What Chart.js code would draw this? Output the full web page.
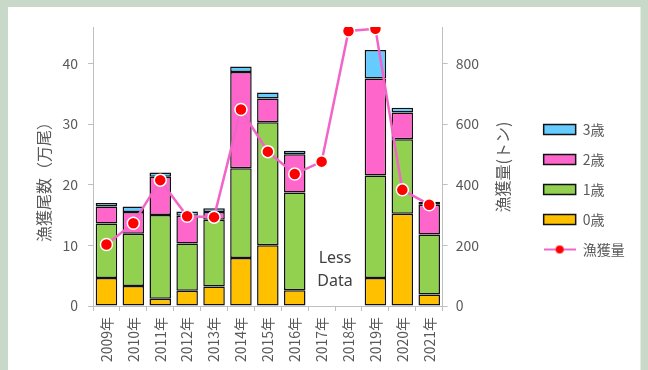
<!DOCTYPE html>
<html>
<head>
<meta charset="utf-8">
<script src="https://cdn.jsdelivr.net/npm/chart.js@4"></script>
<style>
  html, body { margin: 0; padding: 0; }
  body { width: 648px; height: 370px; background: #c8d9c9; position: relative; overflow: hidden; }
  #panel { position: absolute; left: 8px; top: 7px; width: 632px; height: 363px; background: #ffffff; border-right: 1px solid #e4ece4; }
  canvas { display: block; }
</style>
</head>
<body>
<div id="panel"><canvas id="catchChart" width="632" height="363"></canvas></div>
<script>
// categories
const years = ['2009年', '2010年', '2011年', '2012年', '2013年', '2014年', '2015年',
               '2016年', '2017年', '2018年', '2019年', '2020年', '2021年'];

// catch in number of fish (10,000 fish), by age
const age0 = [4.6, 3.3, 1.2, 2.5, 3.2, 7.9, 10.0, 2.6, null, null, 4.6, 15.2, 1.9];
const age1 = [9.0, 8.6, 13.8, 7.8, 11.0, 14.8, 20.3, 16.1, null, null, 16.9, 12.3, 9.9];
const age2 = [2.8, 3.6, 6.3, 4.6, 1.3, 15.9, 3.9, 6.3, null, null, 16.0, 4.4, 4.9];
const age3 = [0.6, 0.9, 0.7, 0.7, 0.6, 0.9, 1.0, 0.6, null, null, 4.7, 0.8, 0.5];

// catch weight (tons)
const catchTons = [203, 273, 415, 296, 293, 648, 509, 435, 476, 907, 914, 383, 334];

// axis ticks
const leftTicks = [0, 10, 20, 30, 40];
const rightTicks = [0, 200, 400, 600, 800];

// legend order: 3歳, 2歳, 1歳, 0歳, 漁獲量 (dataset indexes)
const legendOrder = [3, 2, 1, 0, 4];

const labelFont = { family: "'Noto Sans CJK JP', 'Noto Sans', sans-serif", size: 14 };
const textGray = '#595959';
const axisGray = '#bfbfbf';

// legend icon for the line series
const lineIcon = document.createElement('canvas');
lineIcon.width = 32;
lineIcon.height = 12;
(function() {
    const c = lineIcon.getContext('2d');
    c.strokeStyle = '#f264c8';
    c.lineWidth = 2;
    c.beginPath();
    c.moveTo(0, 6);
    c.lineTo(32, 6);
    c.stroke();
    c.fillStyle = '#ff0000';
    c.beginPath();
    c.arc(16, 6, 4, 0, Math.PI * 2);
    c.fill();
})();

function barSet(label, data, color) {
    return {
        type: 'bar',
        label: label,
        data: data,
        backgroundColor: color,
        borderColor: '#111111',
        borderWidth: 1.5,
        borderSkipped: false,
        yAxisID: 'y',
        stack: 'fish',
        order: 1,
        barPercentage: 0.8,
        categoryPercentage: 1.0
    };
}

// move the legend block up a little (it is centred a bit higher in the original)
const legendShift = {
    id: 'legendShift',
    afterLayout(chart) {
        if (chart.legend) {
            chart.legend.top -= 9;
            chart.legend.bottom -= 9;
        }
    }
};

// axis titles (both read bottom-to-top) and the "Less Data" note
const extraText = {
    id: 'extraText',
    afterDraw(chart) {
        const ctx = chart.ctx;
        const xs = chart.scales.x;
        const ys = chart.scales.y;
        ctx.save();
        ctx.fillStyle = textGray;
        ctx.font = "16px 'Noto Sans CJK JP', sans-serif";
        ctx.textAlign = 'center';
        ctx.textBaseline = 'middle';

        ctx.save();
        ctx.translate(36, 171);
        ctx.rotate(-Math.PI / 2);
        ctx.fillText('漁獲尾数（万尾）', 0, 0);
        ctx.restore();

        ctx.save();
        ctx.translate(495, 160);
        ctx.rotate(-Math.PI / 2);
        ctx.fillText('漁獲量(トン)', 0, 0);
        ctx.restore();

        const mid = (xs.getPixelForValue(8) + xs.getPixelForValue(9)) / 2;
        ctx.fillStyle = '#404040';
        ctx.font = "16px 'Noto Sans', sans-serif";
        ctx.fillText('Less', mid, ys.getPixelForValue(7.9));
        ctx.fillText('Data', mid, ys.getPixelForValue(4.0));
        ctx.restore();
    }
};

const ctx = document.getElementById('catchChart').getContext('2d');
new Chart(ctx, {
    data: {
        labels: years,
        datasets: [
            barSet('0歳', age0, '#ffc000'),
            barSet('1歳', age1, '#92d050'),
            barSet('2歳', age2, '#ff66cc'),
            barSet('3歳', age3, '#66ccff'),
            {
                type: 'line',
                label: '漁獲量',
                data: catchTons,
                yAxisID: 'y2',
                order: 0,
                borderColor: '#f264c8',
                borderWidth: 2.5,
                tension: 0,
                pointRadius: 6,
                pointBackgroundColor: '#ff0000',
                pointBorderColor: '#ffffff',
                pointBorderWidth: 1.5
            }
        ]
    },
    options: {
        responsive: false,
        animation: false,
        layout: { padding: { left: 23, top: 20, right: 13, bottom: 0 } },
        plugins: {
            tooltip: { enabled: false },
            legend: {
                position: 'right',
                labels: {
                    color: textGray,
                    font: labelFont,
                    usePointStyle: true,
                    pointStyleWidth: 32,
                    boxHeight: 10,
                    padding: 16,
                    generateLabels(chart) {
                        const items = Chart.defaults.plugins.legend.labels.generateLabels(chart);
                        items.forEach(it => {
                            if (it.datasetIndex < 4) {
                                it.pointStyle = 'rect';
                                it.strokeStyle = '#111111';
                                it.lineWidth = 1.5;
                            } else {
                                it.pointStyle = lineIcon;
                            }
                        });
                        return legendOrder.map(i => items.find(it => it.datasetIndex === i));
                    }
                }
            }
        },
        scales: {
            x: {
                stacked: true,
                offset: true,
                grid: {
                    offset: true,
                    drawOnChartArea: false,
                    drawTicks: true,
                    tickLength: 5,
                    color: axisGray
                },
                border: { color: axisGray },
                ticks: {
                    color: textGray,
                    font: labelFont,
                    autoSkip: false,
                    minRotation: 90,
                    maxRotation: 90,
                    padding: 6
                },
                afterFit(scale) { scale.height = 64; }
            },
            y: {
                position: 'left',
                stacked: true,
                min: 0,
                max: 46,
                grid: { drawOnChartArea: false, tickLength: 5, color: axisGray },
                border: { color: axisGray },
                ticks: { color: textGray, font: labelFont, padding: 10, stepSize: 10 },
                afterBuildTicks(scale) {
                    scale.ticks = leftTicks.map(v => ({ value: v }));
                },
                afterFit(scale) { scale.width = 62; }
            },
            y2: {
                position: 'right',
                min: 0,
                max: 920,
                grid: { drawOnChartArea: false, tickLength: 5, color: axisGray },
                border: { color: axisGray },
                ticks: { color: textGray, font: labelFont, padding: 8, stepSize: 200 },
                afterBuildTicks(scale) {
                    scale.ticks = rightTicks.map(v => ({ value: v }));
                },
                afterFit(scale) { scale.width = 85; }
            }
        }
    },
    plugins: [legendShift, extraText]
});
</script>
</body>
</html>
